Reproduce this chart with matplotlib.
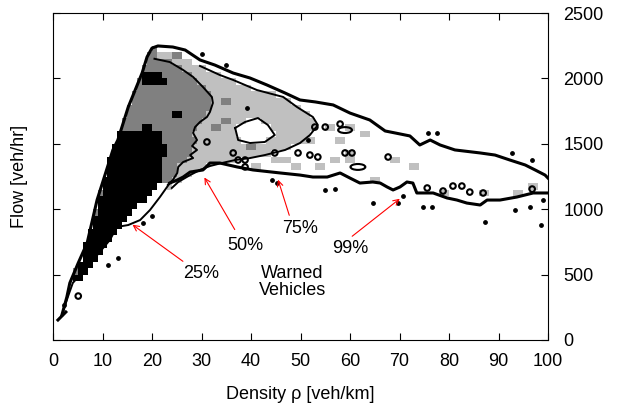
import numpy as np
import matplotlib
matplotlib.use("Agg")
import matplotlib.pyplot as plt
from matplotlib.path import Path
from matplotlib.colors import ListedColormap
from matplotlib.patches import Ellipse

plt.rcParams["font.family"] = ["Liberation Sans", "DejaVu Sans"]

# 99% envelope: left edge and top, from the origin up over the peak to rho=100
upper_x = [1.8, 2.8, 3.4, 5.1, 6.9, 8.9, 12.1, 13.1, 15.2, 16.6, 18.0, 19.0, 20.0, 21.2,
           24.2, 26.7, 29.7, 32.7, 36.4, 39.8, 43.2, 46.9, 49.9, 53.0, 56.6, 60.0, 64.0,
           67.1, 69.1, 72.1, 74.1, 76.2, 78.2, 81.2, 86.3, 89.3, 92.3, 95.4, 97.4, 99.4, 100]
upper_y = [191, 329, 436, 589, 742, 1070, 1453, 1529, 1781, 1911, 2041, 2164, 2232, 2248,
           2240, 2217, 2141, 2102, 2041, 2003, 1950, 1888, 1835, 1820, 1797, 1735, 1682,
           1598, 1583, 1560, 1491, 1529, 1491, 1453, 1430, 1414, 1376, 1338, 1300, 1261, 1238]

# 99% envelope: lower edge, from rho=100 back to the congestion branch
lower_x = [100, 97.0, 93.7, 90.3, 87.7, 86.3, 83.6, 81.6, 79.6, 76.8, 73.5, 72.7, 71.5,
           70.1, 68.7, 67.5, 66.1, 64.6, 62.0, 60.0, 58.0, 55.4, 52.5, 49.9, 45.9, 40.4,
           37.2, 33.7, 31.7, 30.3, 27.7, 26.3, 25.1, 23.6]
lower_y = [1124, 1124, 1093, 1070, 1070, 1032, 1047, 1070, 1086, 1124, 1124, 1200, 1208,
           1170, 1147, 1170, 1200, 1208, 1200, 1238, 1277, 1246, 1246, 1261, 1277, 1300,
           1323, 1353, 1353, 1300, 1284, 1246, 1223, 1200]

# 99% envelope: lower edge of the free-flow branch down to the origin
free_x = [23.6, 21.6, 19.6, 17.6, 15.2, 12.9, 11.5, 8.1, 6.9, 4.0, 3.0, 1.8]
free_y = [1200, 1093, 994, 917, 879, 864, 765, 612, 558, 436, 329, 191]

# 25% region (black)
black_x = [4.0, 4.4, 5.5, 6.5, 7.9, 9.1, 10.1, 12.1, 13.1, 15.6, 19.6, 21.6, 22.8, 22.2,
           21.6, 19.6, 17.6, 15.2, 13.1, 10.9, 8.1, 5.5]
black_y = [436, 482, 589, 742, 894, 1047, 1200, 1453, 1567, 1621, 1628, 1583, 1453, 1300,
           1185, 1093, 1032, 933, 856, 742, 589, 459]

# 50% region (dark grey), right-hand boundary from the peak downwards
dark_edge_x = [20.5, 23.6, 26.3, 28.3, 30.3, 32.1, 32.3, 31.7, 31.1, 29.7, 28.7, 28.3,
               29.1, 28.1, 29.1, 27.7, 28.3, 26.3, 25.3, 25.1, 24.2, 23.2]
dark_edge_y = [2150, 2125, 2064, 2011, 1934, 1858, 1812, 1743, 1705, 1667, 1628, 1583,
               1529, 1483, 1453, 1414, 1391, 1361, 1323, 1277, 1223, 1185]

# 75% region (light grey), boundary from the peak round to the lower edge
light_edge_x = [20.0, 23.6, 26.7, 29.7, 33.7, 36.4, 41.2, 46.5, 49.3, 52.5, 53.5, 51.9,
                49.9, 46.9, 42.8, 39.8, 36.8, 34.1, 31.7, 29.7, 27.7, 25.3, 24.0]
light_edge_y = [2202, 2202, 2164, 2095, 2026, 1988, 1911, 1858, 1781, 1705, 1644, 1567,
                1506, 1453, 1414, 1391, 1376, 1353, 1330, 1300, 1261, 1208, 1162]

# unfilled pocket inside the 75% region
hole_x = [36.8, 38.8, 41.4, 43.4, 44.8, 42.8, 39.8, 37.4, 36.8]
hole_y = [1621, 1667, 1697, 1644, 1567, 1514, 1506, 1529, 1621]

# isolated histogram cells
light_cell_x = [55.0, 59.0, 56.6, 68.1, 72.7, 64.6, 93.7, 46.5, 59.4, 48.5, 53.9,
                51.5, 59.0, 78.8, 86.9, 96.8, 62.0, 44.0, 40.0, 57.5]
light_cell_y = [1628, 1605, 1376, 1399, 1300, 1223, 1131, 1399, 1353, 1323, 1323,
                1529, 1430, 1139, 1124, 1154, 1560, 1350, 1330, 1500]
dark_cell_x = [34.1, 34.7, 32.1, 39.8, 24.5]
dark_cell_y = [1812, 1659, 1605, 1480, 2180]
black_cell_x = [18.0, 19.0, 20.0, 21.0, 22.0, 18.0, 19.0, 20.0, 21.0, 24.0, 25.0]
black_cell_y = [1950, 1950, 1950, 1950, 1950, 2000, 2000, 2000, 2000, 1720, 1720]

# small closed contours and single points
ring_x = [58.0, 59.0, 60.4, 67.7, 75.6, 78.8, 80.8, 82.6, 84.2, 86.9, 96.8, 31.1, 36.4,
          37.4, 38.8, 38.8, 44.8, 49.5, 51.9, 53.5, 52.9, 55.0, 5.1]
ring_y = [1651, 1430, 1430, 1399, 1162, 1139, 1177, 1177, 1131, 1124, 1154, 1514, 1430,
          1376, 1376, 1323, 1430, 1430, 1414, 1399, 1628, 1628, 336]
dot_x = [75.8, 77.6, 92.7, 96.8, 57.0, 64.6, 69.7, 70.7, 74.7, 76.6, 93.3, 96.4, 99.0,
         98.6, 34.9, 30.1, 39.2, 51.5, 20.0, 18.2, 13.1, 11.1, 2.2, 87.3, 44.2, 45.3, 55.0]
dot_y = [1583, 1583, 1430, 1376, 1154, 1047, 1047, 1101, 1017, 1017, 994, 1017, 1070,
         879, 2102, 2186, 1774, 1529, 948, 894, 627, 573, 268, 902, 1223, 1200, 1147]
loop_x = [61.6, 59.0]
loop_y = [1323, 1605]
loop_w = [3.0, 2.8]
loop_h = [45, 45]

labels = ["25%", "50%", "75%", "99%"]
label_x = [29.9, 38.8, 49.9, 60.0]
label_y = [512, 726, 856, 703]
arrow_x = [15.6, 30.3, 45.3, 70.5]
arrow_y = [894, 1261, 1246, 1093]
tail_x = [26.7, 37.0, 47.9, 60.0]
tail_y = [589, 826, 933, 780]

# bin the regions onto the histogram grid
dx, dy = 1.0, 50.0
xe = np.arange(0, 100 + dx, dx)
ye = np.arange(0, 2500 + dy, dy)
xc, yc = np.meshgrid(xe[:-1] + dx / 2, ye[:-1] + dy / 2)
pts = np.column_stack([xc.ravel(), yc.ravel()])

left_x, left_y = upper_x[2:14], upper_y[2:14]
dark_poly = list(zip(left_x + dark_edge_x + black_x[14:],
                     left_y + dark_edge_y + black_y[14:]))
light_poly = list(zip(left_x + light_edge_x + black_x[14:],
                      left_y + light_edge_y + black_y[14:]))
black_poly = list(zip(black_x, black_y))

grid = np.zeros(xc.shape)
for level, poly in [(1, light_poly), (2, dark_poly), (3, black_poly)]:
    inside = Path(poly).contains_points(pts).reshape(xc.shape)
    grid[inside] = np.maximum(grid[inside], level)
grid[Path(list(zip(hole_x, hole_y))).contains_points(pts).reshape(xc.shape)] = 0


def put_cells(xs, ys, level, width=2):
    for x, y in zip(xs, ys):
        i = int(y // dy)
        j = int(x // dx)
        for k in range(width):
            if 0 <= j + k < grid.shape[1]:
                grid[i, j + k] = max(grid[i, j + k], level)


put_cells(light_cell_x, light_cell_y, 1)
put_cells(dark_cell_x, dark_cell_y, 2)
put_cells(black_cell_x, black_cell_y, 3, width=1)

fig = plt.figure(figsize=(6.28, 4.08), dpi=100)
ax = fig.add_axes([53 / 628, 68 / 408, 495 / 628, 327 / 408])

cmap = ListedColormap(["#c0c0c0", "#808080", "#000000"])
ax.pcolormesh(xe, ye, np.ma.masked_equal(grid, 0), cmap=cmap, vmin=0.5, vmax=3.5)

ax.plot(upper_x, upper_y, color="black", lw=2.2, solid_joinstyle="round")
ax.plot(lower_x, lower_y, color="black", lw=2.2, solid_joinstyle="round")
ax.plot(free_x, free_y, color="black", lw=1.4, solid_joinstyle="round")
ax.plot(dark_edge_x, dark_edge_y, color="black", lw=1.4)
ax.plot(light_edge_x[3:], light_edge_y[3:], color="black", lw=1.4)
ax.plot(hole_x, hole_y, color="black", lw=1.4)
ax.plot([1.0, 2.6], [153, 214], color="black", lw=2.2)

ax.scatter(ring_x, ring_y, s=16, facecolors="none", edgecolors="black", linewidths=1.5, zorder=3)
ax.scatter(dot_x, dot_y, s=6, color="black", zorder=3)
for x, y, w, h in zip(loop_x, loop_y, loop_w, loop_h):
    ax.add_patch(Ellipse((x, y), w, h, fill=False, edgecolor="black", lw=1.5, zorder=3))

for t, lx, ly, hx, hy, tx, ty in zip(labels, label_x, label_y, arrow_x, arrow_y, tail_x, tail_y):
    ax.annotate("", xy=(hx, hy), xytext=(tx, ty),
                arrowprops=dict(arrowstyle="->", color="red", lw=0.8))
    ax.text(lx, ly, t, fontsize=13, ha="center", va="center")
ax.text(48.3, 443, "Warned\nVehicles", fontsize=13, ha="center", va="center", linespacing=1.0)

ax.set_xlim(0, 100)
ax.set_ylim(0, 2500)
ax.set_xticks(np.arange(0, 101, 10))
ax.set_yticks(np.arange(0, 2501, 500))
ax.tick_params(direction="in", length=5, top=True, right=True, labelsize=13,
               labelleft=False, labelright=True)
ax.tick_params(axis="x", pad=9)
ax.tick_params(axis="y", pad=11)
ax.set_xlabel("Density \u03c1 [veh/km]", fontsize=13, labelpad=12)
ax.set_ylabel("Flow [veh/hr]", fontsize=13, labelpad=18)

fig.savefig("out.png", dpi=100)
